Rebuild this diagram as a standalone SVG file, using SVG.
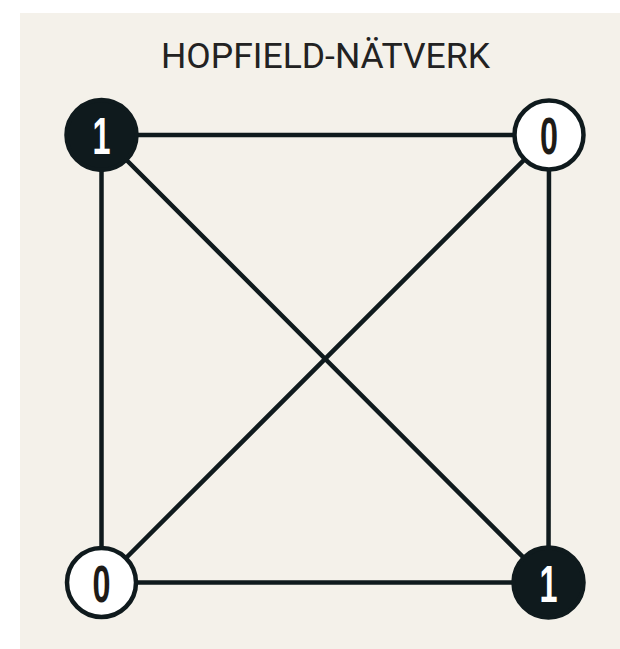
<svg xmlns="http://www.w3.org/2000/svg" width="620" height="649" viewBox="0 0 620 649">
<style>
.edge{stroke:#0f1a1d;stroke-width:4.5;fill:none;stroke-linecap:round}
.on{fill:#0f1a1d;stroke:#0f1a1d;stroke-width:4.5}
.off{fill:#ffffff;stroke:#0f1a1d;stroke-width:4.5}
.d{font-family:"Liberation Sans",Arial,sans-serif;font-weight:bold;font-size:52px;text-anchor:middle}
.don{fill:#ffffff}
.doff{fill:#1e1b17}
.title{font-family:Roboto,"DejaVu Sans",sans-serif;font-weight:400;font-size:35px;fill:#222222;text-anchor:middle}
</style>
<rect x="20" y="13" width="600" height="636" fill="#f4f1ea"/>
<text class="title" x="325.5" y="68" textLength="329" lengthAdjust="spacingAndGlyphs">HOPFIELD-NÄTVERK</text>
<g id="connectors">
<line class="edge" x1="101.5" y1="135" x2="549" y2="135"/>
<line class="edge" x1="101.5" y1="135" x2="101.5" y2="582.5"/>
<line class="edge" x1="101.5" y1="135" x2="548.5" y2="582.5"/>
<line class="edge" x1="549" y1="135" x2="101.5" y2="582.5"/>
<line class="edge" x1="549" y1="135" x2="548.5" y2="582.5"/>
<line class="edge" x1="101.5" y1="582.5" x2="548.5" y2="582.5"/>
</g>
<g id="n1">
<circle class="on" cx="101.5" cy="135" r="35"/>
<text class="d don" x="101.5" y="154" textLength="18" lengthAdjust="spacingAndGlyphs">1</text>
</g>
<g id="n2">
<circle class="off" cx="549" cy="135" r="34.5"/>
<text class="d doff" x="549" y="154" textLength="18" lengthAdjust="spacingAndGlyphs">0</text>
</g>
<g id="n3">
<circle class="off" cx="101.5" cy="582.5" r="34.5"/>
<text class="d doff" x="101.5" y="601.5" textLength="18" lengthAdjust="spacingAndGlyphs">0</text>
</g>
<g id="n4">
<circle class="on" cx="548.5" cy="582.5" r="35"/>
<text class="d don" x="548.5" y="601.5" textLength="18" lengthAdjust="spacingAndGlyphs">1</text>
</g>
</svg>
